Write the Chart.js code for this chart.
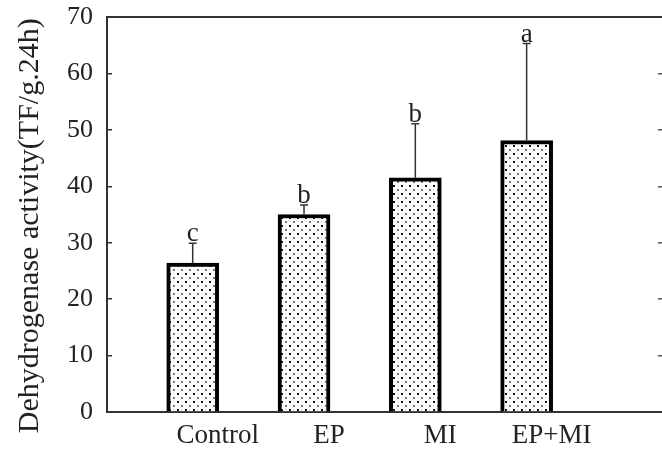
<!DOCTYPE html>
<html>
<head>
<meta charset="utf-8">
<script src="https://cdn.jsdelivr.net/npm/chart.js@4.4.0/dist/chart.umd.min.js"></script>
<style>
  html, body { margin: 0; padding: 0; background: #fff; overflow: hidden; }
  #wrap { width: 670px; height: 455px; }
</style>
</head>
<body>
<div id="wrap"><canvas id="chart" width="670" height="455"></canvas></div>
<script>
// values
const categories = ["Control", "EP", "MI", "EP+MI"];
const positions  = [1, 2, 3, 4];
const activity   = [26.4, 35.0, 41.5, 48.1];
const errorUp    = [3.5, 1.7, 9.6, 17.2];
const letters    = ["c", "b", "b", "a"];
const yMin = 0, yMax = 70, yStep = 10;

const serif = '"Liberation Serif", "Times New Roman", serif';
const ink = "#222";

// dotted fill like the original bars
function stipple() {
  const c = document.createElement("canvas");
  c.width = 8; c.height = 8;
  const g = c.getContext("2d");
  g.fillStyle = "#fff"; g.fillRect(0, 0, 8, 8);
  g.fillStyle = "#151515"; g.fillRect(1, 1, 2, 2);
  g.fillStyle = "#7a7a7a"; g.fillRect(5, 5, 2, 2);
  g.fillStyle = "#c8c8c8"; g.fillRect(5, 1, 1, 1); g.fillRect(1, 5, 1, 1);
  return g.createPattern(c, "repeat");
}

// upper error bars + significance letters
const errorBars = {
  id: "errorBars",
  afterDatasetsDraw(chart) {
    const { ctx, scales: { x, y } } = chart;
    ctx.save();
    positions.forEach((p, i) => {
      const px = x.getPixelForValue(p);
      const y0 = y.getPixelForValue(activity[i]);
      const y1 = y.getPixelForValue(activity[i] + errorUp[i]);
      ctx.strokeStyle = "#333";
      ctx.lineWidth = 1.5;
      ctx.beginPath();
      ctx.moveTo(px, y0);
      ctx.lineTo(px, y1);
      ctx.moveTo(px - 4, y1);
      ctx.lineTo(px + 4, y1);
      ctx.stroke();
      ctx.fillStyle = ink;
      ctx.font = "27px " + serif;
      ctx.textAlign = "center";
      ctx.textBaseline = "alphabetic";
      ctx.fillText(letters[i], px, y1 - 2);
    });
    ctx.restore();
  }
};

// keep the plot frame where the figure has it
const noPad = s => { s.paddingTop = 0; s.paddingBottom = 0; s.paddingLeft = 0; s.paddingRight = 0; };

new Chart(document.getElementById("chart"), {
  type: "bar",
  data: {
    datasets: [{
      data: positions.map((p, i) => ({ x: p, y: activity[i] })),
      backgroundColor: stipple(),
      borderColor: "#000",
      borderWidth: 4,
      borderSkipped: "start",
      barThickness: 52
    }]
  },
  options: {
    responsive: false,
    animation: false,
    devicePixelRatio: 1,
    layout: { padding: { top: 17, right: 7, left: 0, bottom: 0 } },
    plugins: { legend: { display: false }, tooltip: { enabled: false } },
    scales: {
      x: {
        type: "linear",
        position: "bottom",
        offset: false,
        min: 0.23,
        max: 5.225,
        afterBuildTicks: s => { s.ticks = positions.map(v => ({ value: v })); },
        afterFit: s => { s.height = 43; noPad(s); },
        ticks: {
          callback: v => categories[positions.indexOf(v)] || "",
          labelOffset: 25,
          padding: 8,
          autoSkip: false,
          maxRotation: 0,
          color: ink,
          font: { family: serif, size: 27 }
        },
        grid: { drawOnChartArea: false, drawTicks: false },
        border: { color: "#333", width: 2 }
      },
      x2: {
        type: "linear",
        position: "top",
        offset: false,
        min: 0.23,
        max: 5.225,
        afterFit: s => { s.height = 0; noPad(s); },
        ticks: { display: false },
        grid: { drawOnChartArea: false, drawTicks: false },
        border: { color: "#333", width: 2 }
      },
      y: {
        position: "left",
        min: yMin,
        max: yMax,
        afterFit: s => { s.width = 107; noPad(s); },
        ticks: {
          stepSize: yStep,
          padding: 19,
          color: ink,
          font: { family: serif, size: 26 }
        },
        grid: { drawOnChartArea: false, tickLength: -5, color: "#333", lineWidth: 1.5 },
        border: { color: "#333", width: 2 },
        title: {
          display: true,
          text: "Dehydrogenase activity(TF/g.24h)   ",
          color: ink,
          font: { family: serif, size: 30 },
          padding: { top: 12, bottom: 0 }
        }
      },
      y2: {
        position: "right",
        min: yMin,
        max: yMax,
        afterFit: s => { s.width = 0; noPad(s); },
        ticks: { stepSize: yStep, display: false },
        grid: { drawOnChartArea: false, tickLength: -5, color: "#555", lineWidth: 1.5 },
        border: { color: "#333", width: 2 }
      }
    }
  },
  plugins: [errorBars]
});
</script>
</body>
</html>
